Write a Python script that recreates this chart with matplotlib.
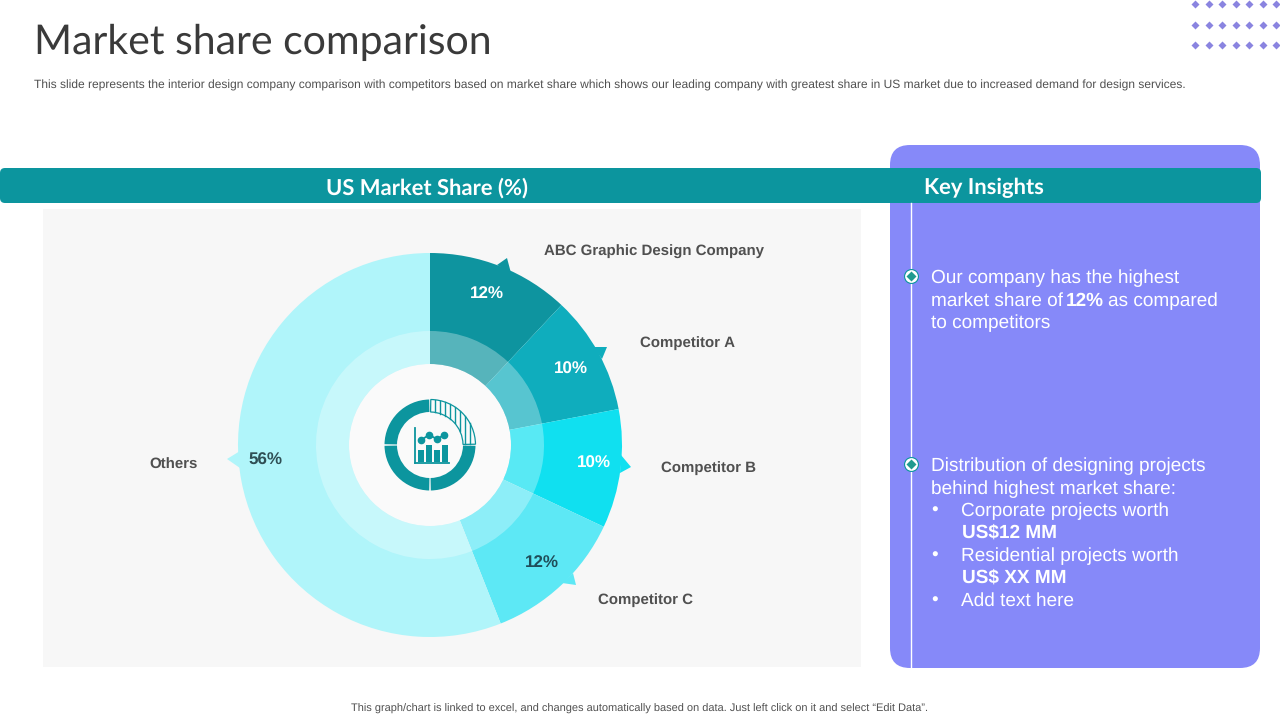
import matplotlib
matplotlib.use('Agg')
import matplotlib.pyplot as plt
from matplotlib.patches import Rectangle, FancyBboxPatch, Wedge, Polygon, Circle

plt.rcParams['text.hinting'] = 'no_hinting'
plt.rcParams['text.hinting_factor'] = 1

# chart values
labels = ['ABC Graphic Design Company', 'Competitor A', 'Competitor B', 'Competitor C', 'Others']
shares = [12, 10, 10, 12, 56]
share_text = ['12%', '10%', '10%', '12%', '56%']
colors = ['#0E949F', '#0FADBD', '#10E0F0', '#5DE8F5', '#B0F5FA']
pct_colors = ['white', 'white', 'white', '#1F4E5A', '#2F4F55']

TEAL = '#0C959E'
PURPLE = '#8689F9'
BODY = 'Liberation Sans'

fig = plt.figure(figsize=(12.8, 7.2), dpi=100)
ax = fig.add_axes([0, 0, 1, 1])

# gray panel behind the chart
ax.add_patch(Rectangle((43, 209), 818, 458, fc='#F7F7F7', ec='none', zorder=0))

# purple panel and header bar
ax.add_patch(FancyBboxPatch((890, 145), 370, 523, boxstyle='round,pad=0,rounding_size=20',
                            fc=PURPLE, ec='none', zorder=1))
ax.add_patch(FancyBboxPatch((3, 171), 1255, 29, boxstyle='round,pad=3,rounding_size=5',
                            fc=TEAL, ec='none', zorder=2))

# doughnut, y axis is flipped so counterclock runs clockwise on screen
cx, cy = 430, 445
ax.pie(shares, colors=colors, center=(cx, cy), radius=192, startangle=-90, counterclock=True,
       wedgeprops=dict(ec='none', zorder=3), frame=False)
ax.pie(shares, colors=['white'] * 5, center=(cx, cy), radius=114, startangle=-90, counterclock=True,
       wedgeprops=dict(width=33, ec='none', alpha=0.3, zorder=4), frame=False)
ax.add_patch(Circle((cx, cy), 81, fc='#FAFAFA', ec='none', zorder=5))

ax.set_xlim(0, 1280)
ax.set_ylim(720, 0)
ax.set_aspect('equal')
ax.axis('off')

# callout tips on the wedges
tips = [
    [(507, 258), (497, 265), (511, 273)],
    [(607, 347), (593, 347), (602, 359)],
    [(631, 467), (621, 455), (620, 473)],
    [(576, 585), (573, 573), (562, 583)],
    [(227, 459), (240, 451), (240, 468)],
]
for tip, c in zip(tips, colors):
    ax.add_patch(Polygon(tip, closed=True, fc=c, ec='none', zorder=3))

# share labels
pct_pos = [(487, 294), (571, 369), (594, 463), (542, 563), (265, 460)]
for (x, y), s, c in zip(pct_pos, share_text, pct_colors):
    ax.text(x, y, s, ha='center', va='center', fontsize=12, fontweight='bold', family=BODY, color=c, zorder=6)

# category labels
name_pos = [(544, 252), (640, 343), (661, 468), (598, 600), (149, 465)]
for (x, y), s in zip(name_pos, labels):
    ax.text(x, y, s, ha='left', va='center', fontsize=10.45, fontweight='bold', family=BODY, color='#505050', zorder=6)

# centre icon
ring = dict(width=12.5, fc=TEAL, ec='none', zorder=6)
ax.add_patch(Wedge((cx, cy), 45.5, 1, 89, **ring))
ax.add_patch(Wedge((cx, cy), 45.5, 91, 179, **ring))
ax.add_patch(Wedge((cx, cy), 45.5, 181, 269, **ring))
ax.add_patch(Wedge((cx, cy), 45.5, 271, 359, fc='none', ec=TEAL, lw=0.9, width=12.5, zorder=6))
for hx in range(435, 475, 5):
    dx = hx - cx
    y_out = cy - (45.5 ** 2 - dx ** 2) ** 0.5
    y_in = cy - (33 ** 2 - dx ** 2) ** 0.5 if abs(dx) < 33 else cy - 1
    ax.plot([hx, hx], [y_out, y_in], color=TEAL, lw=1, zorder=7)
ax.plot([415, 415], [428, 463], color=TEAL, lw=1.3, zorder=7)
ax.plot([415, 449], [463, 463], color=TEAL, lw=1.3, zorder=7)
for bx, top in zip([418, 426, 434, 442], [450, 445, 450, 445]):
    ax.add_patch(Rectangle((bx, top), 5.5, 462 - top, fc=TEAL, ec='none', zorder=7))
ax.plot([421, 429, 437, 444], [440, 435, 439, 435], color=TEAL, lw=1.3, marker='o', ms=4.5, zorder=7)

# header text
ax.text(427, 187.5, 'US Market Share (%)', ha='center', va='center', fontsize=16, fontweight='bold',
        family='Lato', color='white', zorder=6)
ax.text(924, 187.5, 'Key Insights', ha='left', va='center', fontsize=16, fontweight='bold',
        family='Lato', color='white', zorder=6)

# timeline in the purple panel
ax.plot([910.5, 910.5], [203, 668], color='white', lw=1, zorder=3)
for y in [276, 464]:
    ax.plot(910.5, y, marker='o', ms=10, mfc='white', mec=TEAL, mew=0.8, zorder=4)
    ax.plot(910.5, y, marker='D', ms=5, mfc='#1F9A8F', mec='none', zorder=5)

# insight text
body = dict(fontsize=13.5, family=BODY, color='white', va='center', ha='left', zorder=6)
strong = dict(body, fontsize=14, fontweight='bold')
ax.text(931, 278, 'Our company has the highest', **body)
ax.text(931, 301, 'market share of', **body)
ax.text(1066, 301, '12%', **strong)
ax.text(1108, 301, 'as compared', **body)
ax.text(931, 323, 'to competitors', **body)
ax.text(931, 466, 'Distribution of designing projects', **body)
ax.text(931, 489, 'behind highest market share:', **body)
ax.text(931, 511, '•', **body)
ax.text(961, 511, 'Corporate projects worth', **body)
ax.text(962, 533, 'US$12 MM', **strong)
ax.text(931, 556, '•', **body)
ax.text(961, 556, 'Residential projects worth', **body)
ax.text(962, 578, 'US$ XX MM', **strong)
ax.text(931, 601, '•', **body)
ax.text(961, 601, 'Add text here', **body)

# title block
ax.text(34, 42, 'Market share comparison', ha='left', va='center', fontsize=29.5, family='Lato',
        color='#3A3A3A')
ax.text(34, 85, 'This slide represents the interior design company comparison with competitors based on '
        'market share which shows our leading company with greatest share in US market due to increased '
        'demand for design services.', ha='left', va='center', fontsize=8.6, family=BODY, color='#505050')
ax.text(640, 708.5, 'This graph/chart is linked to excel, and changes automatically based on data. '
        'Just left click on it and select “Edit Data”.', ha='center', va='center', fontsize=7.6,
        family=BODY, color='#505050')

# corner dots
for y in [4, 24.5, 45]:
    for i in range(7):
        ax.plot(1195 + i * 13.5, y, marker='D', ms=4.5, mfc='#8A84E0', mec='none', zorder=2)

fig.savefig('out.png', dpi=100)
